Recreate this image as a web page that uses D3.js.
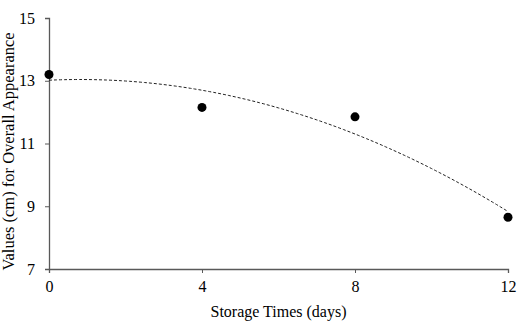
<!DOCTYPE html>
<meta charset="utf-8">
<script src="https://d3js.org/d3.v7.min.js"></script>
<style>
  body { margin: 0; background: #fff; }
  text { font-family: "Liberation Serif", "Times New Roman", serif; }
</style>
<div id="chart"></div>
<script>

// data
var days = [0, 4, 8, 12];
var appearance = [13.2, 12.15, 11.85, 8.65];
var xTicks = [0, 4, 8, 12];
var yTicks = [7, 9, 11, 13, 15];

var W = 532, H = 326;
var margin = {top: 18, right: 24, bottom: 57, left: 49};
var width = W - margin.left - margin.right,
    height = H - margin.top - margin.bottom;

var svg = d3.select("#chart").append("svg")
    .attr("width", W)
    .attr("height", H)
  .append("g")
    .attr("transform", "translate(" + margin.left + "," + margin.top + ")");

var x = d3.scaleLinear().domain([0, 12]).range([0, width]);
var y = d3.scaleLinear().domain([7, 15]).range([height, 0]);

// x axis
var gx = svg.append("g")
    .attr("transform", "translate(0," + height + ")")
    .call(d3.axisBottom(x).tickValues(xTicks).tickSize(4).tickPadding(8).tickFormat(d3.format("d")));

// y axis
var gy = svg.append("g")
    .call(d3.axisLeft(y).tickValues(yTicks).tickSize(4).tickPadding(10).tickFormat(d3.format("d")));

[gx, gy].forEach(function(g) {
  g.select(".domain").attr("stroke", "#595959").attr("stroke-width", 1.3);
  g.selectAll(".tick line").attr("stroke", "#595959");
  g.selectAll(".tick text").attr("fill", "#000").style("font-size", "16px")
    .style("font-family", "Liberation Serif, serif");
});

// quadratic least squares fit (Excel-style polynomial trendline)
function polyFit(xs, ys) {
  var n = xs.length, S = [0,0,0,0,0], T = [0,0,0];
  for (var i = 0; i < n; i++) {
    for (var k = 0; k < 5; k++) S[k] += Math.pow(xs[i], k);
    for (var k = 0; k < 3; k++) T[k] += ys[i] * Math.pow(xs[i], k);
  }
  var A = [[S[0],S[1],S[2],T[0]],[S[1],S[2],S[3],T[1]],[S[2],S[3],S[4],T[2]]];
  for (var c = 0; c < 3; c++) {
    for (var r = c + 1; r < 3; r++) {
      var f = A[r][c] / A[c][c];
      for (var j = c; j < 4; j++) A[r][j] -= f * A[c][j];
    }
  }
  var b = [0,0,0];
  for (var r = 2; r >= 0; r--) {
    var s = A[r][3];
    for (var j = r + 1; j < 3; j++) s -= A[r][j] * b[j];
    b[r] = s / A[r][r];
  }
  return b;
}
var coef = polyFit(days, appearance);
var fitPts = d3.range(0, 12.01, 0.1).map(function(t) {
  return [t, coef[0] + coef[1] * t + coef[2] * t * t];
});

svg.append("path")
    .datum(fitPts)
    .attr("fill", "none")
    .attr("stroke", "#222")
    .attr("stroke-width", 1)
    .attr("stroke-dasharray", "3,2")
    .attr("d", d3.line().x(function(d) { return x(d[0]); }).y(function(d) { return y(d[1]); }));

// points
svg.selectAll(".dot")
    .data(days)
  .enter().append("circle")
    .attr("cx", function(d) { return x(d); })
    .attr("cy", function(d, i) { return y(appearance[i]); })
    .attr("r", 4.5)
    .attr("fill", "#000");

// axis titles
svg.append("text")
    .attr("x", width / 2)
    .attr("y", height + 48)
    .attr("text-anchor", "middle")
    .style("font-size", "16px")
    .text("Storage Times (days)");

svg.append("text")
    .attr("transform", "rotate(-90)")
    .attr("x", -height / 2 - 8)
    .attr("y", -margin.left + 14)
    .attr("text-anchor", "middle")
    .style("font-size", "16.5px")
    .text("Values (cm) for Overall Appearance");

</script>
